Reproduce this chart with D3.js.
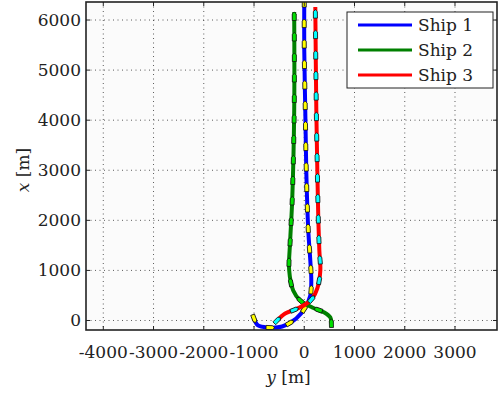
<!DOCTYPE html>
<html>
<head>
<meta charset="utf-8">
<script src="https://cdn.jsdelivr.net/npm/d3@7"></script>
<style>
  body { margin: 0; background: #fff; }
</style>
</head>
<body>
<svg id="chart" width="501" height="396"></svg>
<script>
// trajectories as [y (east), x (north)] in metres, from start to end
const ship1 = [[-1000, 40], [-920, -100], [-720, -140], [-440, -120], [-160, 40], [20, 260], [120, 500],
  [140, 800], [120, 1200], [80, 1800], [40, 3000], [20, 4200], [0, 5400], [0, 6450]];
const ship2 = [[540, -60], [520, 60], [400, 160], [160, 260], [-80, 400], [-220, 600], [-300, 1000],
  [-280, 1600], [-240, 2400], [-200, 4200], [-200, 6160]];
const ship3 = [[-540, 0], [-380, 140], [-180, 220], [20, 320], [160, 440], [260, 640], [320, 1000],
  [300, 1400], [280, 2000], [260, 3000], [240, 4200], [220, 6260]];
const shipNames = ['Ship 1', 'Ship 2', 'Ship 3'];
const lineColors = ['#0000ff', '#008000', '#ff0000'];
const markerColors = ['#ffff00', '#00e000', '#00ffff'];
const xTicks = [-4000, -3000, -2000, -1000, 0, 1000, 2000, 3000];
const yTicks = [0, 1000, 2000, 3000, 4000, 5000, 6000];

const W = 501, H = 396;
const margin = { top: 2, right: 4, bottom: 66, left: 86 };
const iw = W - margin.left - margin.right;
const ih = H - margin.top - margin.bottom;
const font = "'DejaVu Serif', serif";

const svg = d3.select('#chart');
const g = svg.append('g').attr('transform', `translate(${margin.left},${margin.top})`);

const x = d3.scaleLinear().domain([-4344, 3836]).range([0, iw]);
const y = d3.scaleLinear().domain([-190, 6360]).range([ih, 0]);

svg.append('defs').append('clipPath').attr('id', 'clip')
  .append('rect').attr('width', iw).attr('height', ih);

g.append('rect').attr('width', iw).attr('height', ih).attr('fill', '#fbfbfb');

// dotted grid
g.selectAll('.gx').data(xTicks).enter().append('line')
  .attr('x1', d => x(d)).attr('x2', d => x(d)).attr('y1', 0).attr('y2', ih)
  .attr('stroke', '#333').attr('stroke-width', 0.8).attr('stroke-dasharray', '1,3.5');
g.selectAll('.gy').data(yTicks).enter().append('line')
  .attr('y1', d => y(d)).attr('y2', d => y(d)).attr('x1', 0).attr('x2', iw)
  .attr('stroke', '#333').attr('stroke-width', 0.8).attr('stroke-dasharray', '1,3.5');

// trajectories
const line = d3.line().x(d => x(d[0])).y(d => y(d[1])).curve(d3.curveCatmullRom);
const plot = g.append('g').attr('clip-path', 'url(#clip)');
const shipShape = 'M4.5,0 L2.5,-2 L-4,-2 L-4,2 L2.5,2 Z';

[ship1, ship2, ship3].forEach((data, i) => {
  const path = plot.append('path').datum(data)
    .attr('d', line).attr('fill', 'none')
    .attr('stroke', lineColors[i]).attr('stroke-width', 4);
  const node = path.node();
  const len = node.getTotalLength();
  for (let s = 0; s < len; s += 20.5) {
    const p = node.getPointAtLength(s);
    const q = node.getPointAtLength(Math.min(len, s + 1));
    const p0 = node.getPointAtLength(Math.max(0, s - 1));
    const ang = Math.atan2(q.y - p0.y, q.x - p0.x) * 180 / Math.PI;
    plot.append('path').attr('d', shipShape)
      .attr('transform', `translate(${p.x},${p.y}) rotate(${ang})`)
      .attr('fill', markerColors[i]).attr('stroke', '#111').attr('stroke-width', 0.8);
  }
});

// ticks on all sides
const tl = 4;
xTicks.forEach(t => {
  g.append('line').attr('x1', x(t)).attr('x2', x(t)).attr('y1', ih).attr('y2', ih - tl).attr('stroke', '#222');
  g.append('line').attr('x1', x(t)).attr('x2', x(t)).attr('y1', 0).attr('y2', tl).attr('stroke', '#222');
});
yTicks.forEach(t => {
  g.append('line').attr('y1', y(t)).attr('y2', y(t)).attr('x1', 0).attr('x2', tl).attr('stroke', '#222');
  g.append('line').attr('y1', y(t)).attr('y2', y(t)).attr('x1', iw).attr('x2', iw - tl).attr('stroke', '#222');
});

g.append('rect').attr('width', iw).attr('height', ih)
  .attr('fill', 'none').attr('stroke', '#222').attr('stroke-width', 1.6);

// tick labels
g.selectAll('.xl').data(xTicks).enter().append('text')
  .attr('x', d => x(d)).attr('y', ih + 28).attr('text-anchor', 'middle')
  .attr('font-family', font).attr('font-size', 17).attr('fill', '#222')
  .text(d => d < 0 ? '-' + Math.abs(d) : d);
g.selectAll('.yl').data(yTicks).enter().append('text')
  .attr('x', -5).attr('y', d => y(d) + 6).attr('text-anchor', 'end')
  .attr('font-family', font).attr('font-size', 17).attr('fill', '#222')
  .text(d => d);

// axis labels
const yl = g.append('text').attr('x', iw / 2 - 3).attr('y', ih + 53)
  .attr('text-anchor', 'middle').attr('font-family', font).attr('font-size', 17).attr('fill', '#222');
yl.append('tspan').attr('font-style', 'italic').text('y');
yl.append('tspan').text(' [m]');

const xl = svg.append('text')
  .attr('transform', `translate(29,170) rotate(-90)`)
  .attr('text-anchor', 'middle').attr('font-family', font).attr('font-size', 17).attr('fill', '#222');
xl.append('tspan').attr('font-style', 'italic').text('x');
xl.append('tspan').text(' [m]');

// legend
const leg = svg.append('g').attr('transform', 'translate(347,12)');
leg.append('rect').attr('width', 146).attr('height', 76)
  .attr('fill', '#fff').attr('stroke', '#222').attr('stroke-width', 1);
shipNames.forEach((name, i) => {
  const cy = 13 + i * 25;
  leg.append('line').attr('x1', 11).attr('x2', 65).attr('y1', cy).attr('y2', cy)
    .attr('stroke', lineColors[i]).attr('stroke-width', 3);
  leg.append('text').attr('x', 71).attr('y', cy + 6).attr('font-family', font)
    .attr('font-size', 17).attr('fill', '#222').text(name);
});
</script>
</body>
</html>
